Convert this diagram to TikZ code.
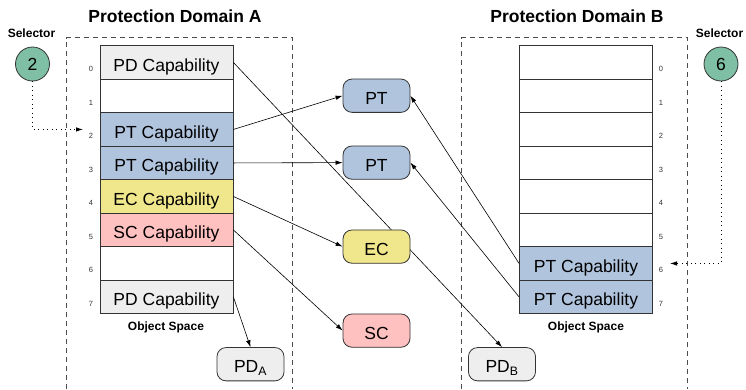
\documentclass[tikz,border=0pt]{standalone}
\usepackage{fontspec}
\setmainfont{Liberation Sans}
\usetikzlibrary{arrows.meta}

\definecolor{ptblue}{HTML}{B0C4DE}
\definecolor{ecyellow}{HTML}{F0E68C}
\definecolor{scpink}{HTML}{FFC0C0}
\definecolor{pdgray}{HTML}{EEEEEE}
\definecolor{selgreen}{HTML}{7EBFA5}
\definecolor{edge}{HTML}{333333}

\tikzset{
  cell/.style={draw=edge, line width=0.8pt, fill=white, minimum width=133pt,
    minimum height=33.5pt, inner sep=0pt, text height=18pt, text depth=0pt,
    font=\fontsize{17.5}{17.5}\selectfont},
  obj/.style={draw=edge, line width=0.8pt, rounded corners=9pt, minimum width=67pt,
    minimum height=33.3pt, inner sep=0pt, text height=17.5pt, text depth=0pt,
    font=\fontsize{17.5}{17.5}\selectfont},
  idx/.style={font=\fontsize{7.5}{7.5}\selectfont, text=black!80, inner sep=0pt},
  headline/.style={font=\bfseries\fontsize{17.5}{17.5}\selectfont, inner sep=0pt},
  spacelabel/.style={font=\bfseries\fontsize{12}{12}\selectfont, inner sep=0pt},
  selcircle/.style={circle, draw=edge, line width=0.8pt, fill=selgreen, minimum size=34pt,
    inner sep=0pt, font=\fontsize{17.5}{17.5}\selectfont},
  pdframe/.style={draw=black!70, line width=0.8pt, dash pattern=on 5pt off 4pt},
  link/.style={draw=black, line width=0.6pt, -{Latex[length=7pt,width=4.5pt]}},
  pick/.style={draw=black, line width=0.8pt, dash pattern=on 1pt off 3.5pt,
    -{Latex[length=7pt,width=4.5pt]}}
}

\begin{document}
\begin{tikzpicture}[x=1pt,y=-1pt]
  \useasboundingbox (0,0) rectangle (746,389);

  % domain frames, open at the bottom
  \draw[pdframe] (66,389) -- (66,37.7) -- (292.7,37.7) -- (292.7,389);
  \draw[pdframe] (461,389) -- (461,37.7) -- (687,37.7) -- (687,389);

  \node[headline] (tA) at (175,16) {Protection Domain A};
  \node[headline] (tB) at (577,16) {Protection Domain B};

  % object space of domain A
  \node[cell, fill=pdgray]   (a0) at (166.5,62.45)  {PD Capability};
  \node[cell]                (a1) at (166.5,95.95)  {};
  \node[cell, fill=ptblue]   (a2) at (166.5,129.45) {PT Capability};
  \node[cell, fill=ptblue]   (a3) at (166.5,162.95) {PT Capability};
  \node[cell, fill=ecyellow] (a4) at (166.5,196.45) {EC Capability};
  \node[cell, fill=scpink]   (a5) at (166.5,229.95) {SC Capability};
  \node[cell]                (a6) at (166.5,263.45) {};
  \node[cell, fill=pdgray]   (a7) at (166.5,296.95) {PD Capability};
  \node[spacelabel] (capA) at (166,327) {Object Space};

  \foreach \i in {0,...,7}
    \node[idx] (la\i) at (91,{45.7+33.5*(\i+0.5)+6.5}) {\i};

  % object space of domain B
  \node[cell] (b0) at (586,62.45)  {};
  \node[cell] (b1) at (586,95.95)  {};
  \node[cell] (b2) at (586,129.45) {};
  \node[cell] (b3) at (586,162.95) {};
  \node[cell] (b4) at (586,196.45) {};
  \node[cell] (b5) at (586,229.95) {};
  \node[cell, fill=ptblue] (b6) at (586,263.45) {PT Capability};
  \node[cell, fill=ptblue] (b7) at (586,296.95) {PT Capability};
  \node[spacelabel] (capB) at (586,327) {Object Space};

  \foreach \i in {0,...,7}
    \node[idx] (lb\i) at (661,{45.7+33.5*(\i+0.5)+6.5}) {\i};

  % protection domain objects
  \node[obj, fill=pdgray] (pdA) at (250.5,364.2) {PD\textsubscript{A}};
  \node[obj, fill=pdgray] (pdB) at (502,364.2)   {PD\textsubscript{B}};

  % the PD capability in slot 0 runs behind the EC object
  \draw[link] (a0.east) -- (pdB.north);

  % portals, execution and scheduling contexts
  \node[obj, fill=ptblue]   (pt1) at (376.5,95.7)  {PT};
  \node[obj, fill=ptblue]   (pt2) at (376.5,162.6) {PT};
  \node[obj, fill=ecyellow] (ec)  at (376.5,246.6) {EC};
  \node[obj, fill=scpink]   (sc)  at (376.5,330.6) {SC};

  % selectors
  \node[spacelabel] (sA) at (31.5,33) {Selector};
  \node[selcircle] (s2) at (32.5,64) {2};
  \node[spacelabel] (sB) at (719.5,33) {Selector};
  \node[selcircle] (s6) at (721,64) {6};

  \coordinate (tip2) at (83,129.45);
  \coordinate (tip6) at (670,263.45);
  \draw[pick] (s2.south) |- (tip2);
  \draw[pick] (s6.south) |- (tip6);

  % capability references
  \draw[link] (a2.east) -- (pt1.west);
  \draw[link] (a3.east) -- (pt2.west);
  \draw[link] (a4.east) -- (ec.west);
  \draw[link] (a5.east) -- (sc.west);
  \draw[link] (a7.east) -- (pdA.north);
  \draw[link] (b6.west) -- (pt1.east);
  \draw[link] (b7.west) -- (pt2.east);
\end{tikzpicture}
\end{document}
